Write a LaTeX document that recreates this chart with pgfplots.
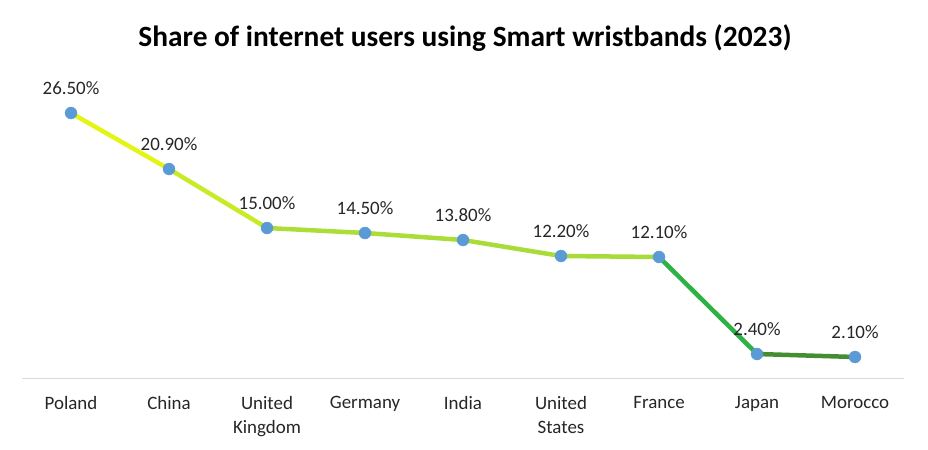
\documentclass[border=0pt]{standalone}
\usepackage{pgfplots}
\pgfplotsset{compat=1.18}
\usepackage{fontspec}
\setmainfont{Carlito}
\usetikzlibrary{calc}

\definecolor{markblue}{HTML}{5B9BD5}
\definecolor{axisgray}{HTML}{D9D9D9}
\definecolor{labelgray}{HTML}{262626}

% share of internet users (%) by country
\pgfplotstableread{
x value
0 26.5
1 20.9
2 15.0
3 14.5
4 13.8
5 12.2
6 12.1
7 2.4
8 2.1
}\wristdata

\begin{document}
\begin{tikzpicture}
	\begin{axis}[
		name=ax,
		scale only axis,
		width=882bp, height=300bp,
		xmin=-0.5, xmax=8.5,
		ymin=0, ymax=30,
		axis x line=bottom,
		axis y line=none,
		x axis line style={axisgray, line width=1bp, -},
		xtick={0,...,8},
		xticklabels={Poland, China, {United\\Kingdom}, Germany, India, {United\\States}, France, Japan, Morocco},
		xticklabel style={align=center, font=\fontsize{19}{24}\selectfont, text=labelgray, yshift=-15bp},
		major tick length=0pt,
		ytick=\empty,
		clip=false,
		/pgf/number format/assume math mode=true,
		point meta min=0, point meta max=30,
		colormap={wrist}{
			rgb255(0)=(70,135,45);
			rgb255(2)=(70,140,48);
			rgb255(7)=(40,175,70);
			rgb255(12)=(168,218,58);
			rgb255(15)=(172,222,55);
			rgb255(18)=(200,235,40);
			rgb255(24)=(230,245,20);
			rgb255(30)=(235,245,0)
		},
		]
		% line, coloured by height
		\addplot[mesh, point meta=y, line width=4.5bp, line join=round, line cap=round]
		table[x=x, y=value] {\wristdata};
		% markers and data labels
		\addplot[only marks, mark=*, mark size=6bp, mark options={fill=markblue, draw=markblue},
			nodes near coords={\pgfmathprintnumber[fixed, fixed zerofill, precision=2, assume math mode=true]{\pgfplotspointmeta}\%},
			point meta=explicit,
			every node near coord/.append style={font=\fontsize{19}{22}\selectfont, text=labelgray, anchor=south, yshift=15bp}]
		table[x=x, y=value, meta=value] {\wristdata};
	\end{axis}
	\node[font=\fontsize{29.5}{34}\selectfont\bfseries, text=black] at ($(ax.south west)+(443bp,340bp)$) {Share of internet users using Smart wristbands (2023)};
	\pgfresetboundingbox
	\path ($(ax.south west)+(-22bp,-72bp)$) rectangle ($(ax.south west)+(906bp,378bp)$);
\end{tikzpicture}
\end{document}
